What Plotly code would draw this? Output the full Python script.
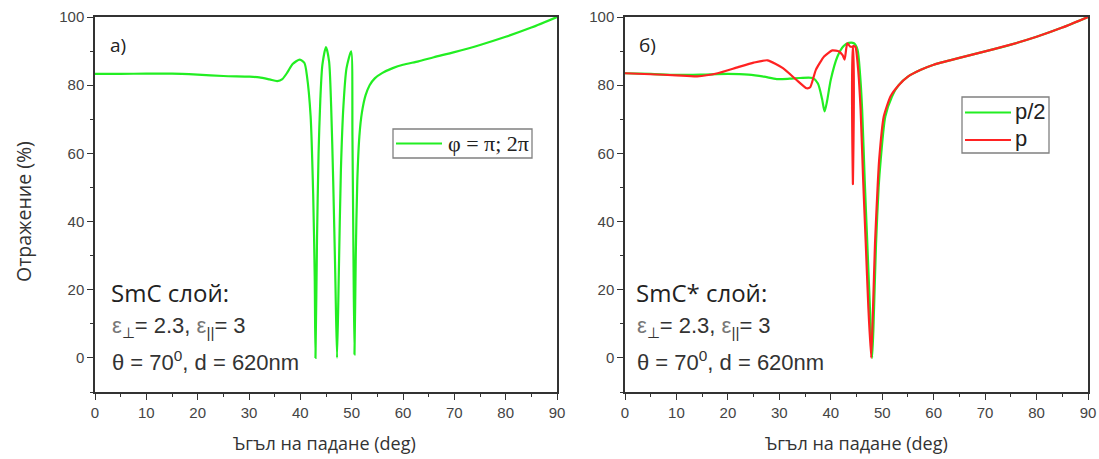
import plotly.graph_objects as go

# ---------------- data ----------------
# panel a) SmC layer, phi = pi; 2pi
ang_a = [0, 5, 10, 15, 20, 25, 30, 32, 34, 35.5, 36.5, 37.5, 38.5, 39.9, 40.8,
         41.3, 42.0, 42.5, 42.8, 42.95, 43.25, 43.55, 43.9, 44.3, 45.0, 45.6,
         46.0, 46.4, 46.8, 47.15, 47.5, 47.9, 48.4, 49.0, 49.9, 50.15, 50.35,
         50.55, 50.8, 51.1, 51.5, 52.0, 52.7, 53.5, 54.5, 56, 58, 60, 63, 66,
         70, 75, 80, 85, 90]
R_a = [83.3, 83.3, 83.4, 83.4, 83.1, 82.7, 82.5, 82.3, 81.7, 81.2, 81.8, 83.8,
       86.2, 87.5, 86.5, 82.6, 71, 48, 24, 0, 35, 60, 76, 86, 91.2, 87,
       74, 52, 25, 0, 25, 55, 74, 85, 89.9, 65, 30,
       1, 30, 52, 65, 72, 77, 80, 82, 83.6, 85, 86, 87, 88.2,
       89.7, 91.8, 94.2, 96.9, 100]

# panel б) SmC* layer, pitch p/2
ang_b_half = [0, 5, 10, 15, 20, 24, 27, 29.5, 32, 34, 36.5, 37.5, 38.3, 38.8,
              39.3, 40, 41.3, 42.5, 43.5, 44.5, 45.2, 45.7, 46.1, 46.6, 47.1,
              47.6, 48.05, 48.4, 48.8, 49.3, 49.7, 50.6, 51.9, 53.2, 55, 57.5,
              60, 65, 70, 75, 80, 85, 90]
R_b_half = [83.5, 83.3, 83.0, 83.1, 83.3, 83.1, 82.5, 81.8, 81.9, 82.1, 82.1,
            80.5, 76, 72.3, 75.5, 81.6, 88.4, 91.5, 92.4, 92.3, 90.4, 83, 72.8,
            52, 33.6, 15, 0, 14, 33.6, 50, 58, 70.8, 76.7, 80, 82.5, 84.5,
            86, 88, 89.9, 91.9, 94.2, 96.9, 100]

# panel б) SmC* layer, pitch p
ang_b_full = [0, 5, 10, 14, 18, 22, 25, 27.7, 30.7, 33.3, 35.3, 36, 37.1, 38.7,
              40.3, 41.6, 42.3, 42.7, 43.2, 43.8, 44.25, 44.3, 44.35, 44.8,
              45.3, 45.8, 46.3, 46.8, 47.3, 47.85, 48.2, 48.6, 49.1, 49.4,
              50.3, 51.6, 53.2, 55, 57.5, 60, 65, 70, 75, 80, 85, 90]
R_b_full = [83.5, 83.2, 82.9, 82.6, 83.5, 85.3, 86.6, 87.3, 85.0, 81.6, 79.1,
            79.4, 84.5, 88.4, 90.2, 89.9, 88.8, 87.5, 92.3, 91.3, 91.2, 51,
            91.5, 91.2, 85, 72.8, 52, 33.6, 15, 0, 14, 33.6, 50, 58,
            70.8, 76.7, 80, 82.5, 84.5, 86, 88, 89.9, 91.9, 94.2, 96.9, 100]

x_ticks = [0, 10, 20, 30, 40, 50, 60, 70, 80, 90]
y_ticks = [0, 20, 40, 60, 80, 100]

label_a = "φ = π; 2π"
label_half = "p/2"
label_full = "p"
x_title = "Ъгъл на падане (deg)"
y_title = "Отражение (%)"

# ---------------- figure ----------------
W, H = 1099, 459
def fx(px):
    return px / W
def fy(py):
    return 1 - py / H

GREEN = "#22ee22"
RED = "#ff2222"
AX = "#333333"
TXT = "#3a3a3a"

fig = go.Figure()
fig.add_trace(go.Scatter(x=ang_a, y=R_a, mode="lines", name=label_a,
                         line=dict(color=GREEN, width=2.2, shape="spline", smoothing=0.7),
                         xaxis="x", yaxis="y", showlegend=False))
fig.add_trace(go.Scatter(x=ang_b_half, y=R_b_half, mode="lines", name=label_half,
                         line=dict(color=GREEN, width=2.2, shape="spline", smoothing=0.7),
                         xaxis="x2", yaxis="y2", showlegend=False))
fig.add_trace(go.Scatter(x=ang_b_full, y=R_b_full, mode="lines", name=label_full,
                         line=dict(color=RED, width=2.2, shape="spline", smoothing=0.5),
                         xaxis="x2", yaxis="y2", showlegend=False))

tickfont = dict(family="Liberation Sans, Arial", size=15, color="#444444")

def xax(domain, anchor):
    return dict(domain=domain, anchor=anchor, range=[0, 90], tickvals=x_ticks,
                ticks="outside", ticklen=6, tickwidth=1.3, tickcolor=AX,
                showline=True, linecolor=AX, linewidth=1.5, mirror=True,
                showgrid=False, zeroline=False, tickfont=tickfont,
                automargin=False,
                minor=dict(dtick=5, tick0=0, ticks="outside", ticklen=3,
                           tickwidth=1.2, tickcolor=AX, showgrid=False))

def yax(anchor):
    return dict(domain=[fy(392), fy(17)], anchor=anchor, range=[-10, 100],
                tickvals=y_ticks, ticks="outside", ticklen=6, tickwidth=1.3,
                tickcolor=AX, showline=True, linecolor=AX, linewidth=1.5,
                mirror=True, showgrid=False, zeroline=False, tickfont=tickfont,
                automargin=False,
                minor=dict(dtick=10, tick0=0, ticks="outside", ticklen=3,
                           tickwidth=1.2, tickcolor=AX, showgrid=False))

fig.update_layout(
    width=W, height=H, autosize=False,
    margin=dict(l=0, r=0, t=0, b=0),
    paper_bgcolor="white", plot_bgcolor="white",
    xaxis=xax([fx(95), fx(557)], "y"),
    yaxis=yax("x"),
    xaxis2=xax([fx(625), fx(1088)], "y2"),
    yaxis2=yax("x2"),
    showlegend=False,
)

ann = []
def add(text, px, py, size, family="Open Sans", color=TXT, xanchor="left",
        yanchor="middle", angle=0):
    ann.append(dict(text=text, x=fx(px), y=fy(py), xref="paper", yref="paper",
                    showarrow=False, xanchor=xanchor, yanchor=yanchor,
                    textangle=angle,
                    font=dict(family=family, size=size, color=color)))

shapes = []
def box(x0, y0, x1, y1):
    shapes.append(dict(type="rect", xref="paper", yref="paper",
                       x0=fx(x0), x1=fx(x1), y0=fy(y1), y1=fy(y0),
                       line=dict(color="#808080", width=1.3),
                       fillcolor="white", layer="above"))
def sample(x0, x1, y, color):
    shapes.append(dict(type="line", xref="paper", yref="paper",
                       x0=fx(x0), x1=fx(x1), y0=fy(y), y1=fy(y),
                       line=dict(color=color, width=2.2), layer="above"))

# legends (drawn as boxes with line samples and labels)
box(393, 129, 532, 158)
sample(396, 442, 143.5, GREEN)
add(label_a, 446, 143.5, 22, family="Liberation Serif, Times New Roman", color="#222")

box(962, 97, 1049, 153)
sample(965, 1011, 112.5, GREEN)
add(label_half, 1013, 111.5, 22, family="Liberation Sans, Arial", color="#222")
sample(965, 1011, 140, RED)
add(label_full, 1013, 139, 22, family="Liberation Sans, Arial", color="#222")

# axis titles
add(x_title, 324, 443, 18, color="#333", xanchor="center")
add(x_title, 856, 443, 18, color="#333", xanchor="center")
add(y_title, 23, 212, 19.5, color="#333", xanchor="center", angle=-90)

# panel labels
add("a)", 108, 45, 19, color="#222")
add("б)", 637, 45, 19, color="#222")

eps = ("<span style='color:#777'>ε</span><sub>⊥</sub>= 2.3, "
       "<span style='color:#777'>ε</span><sub>||</sub>= 3")
theta = "θ = 70<sup>0</sup>, d = 620nm"
for x0, head in [(109, "SmC слой:"), (634, "SmC* слой:")]:
    add(head, x0, 292, 24, color="#222")
    add(eps, x0 + 1, 327, 22, family="Liberation Sans, Arial", color="#333")
    add(theta, x0 + 1, 361, 22, family="Liberation Sans, Arial", color="#333")

fig.update_layout(annotations=ann, shapes=shapes)
fig.write_html("out.html")
